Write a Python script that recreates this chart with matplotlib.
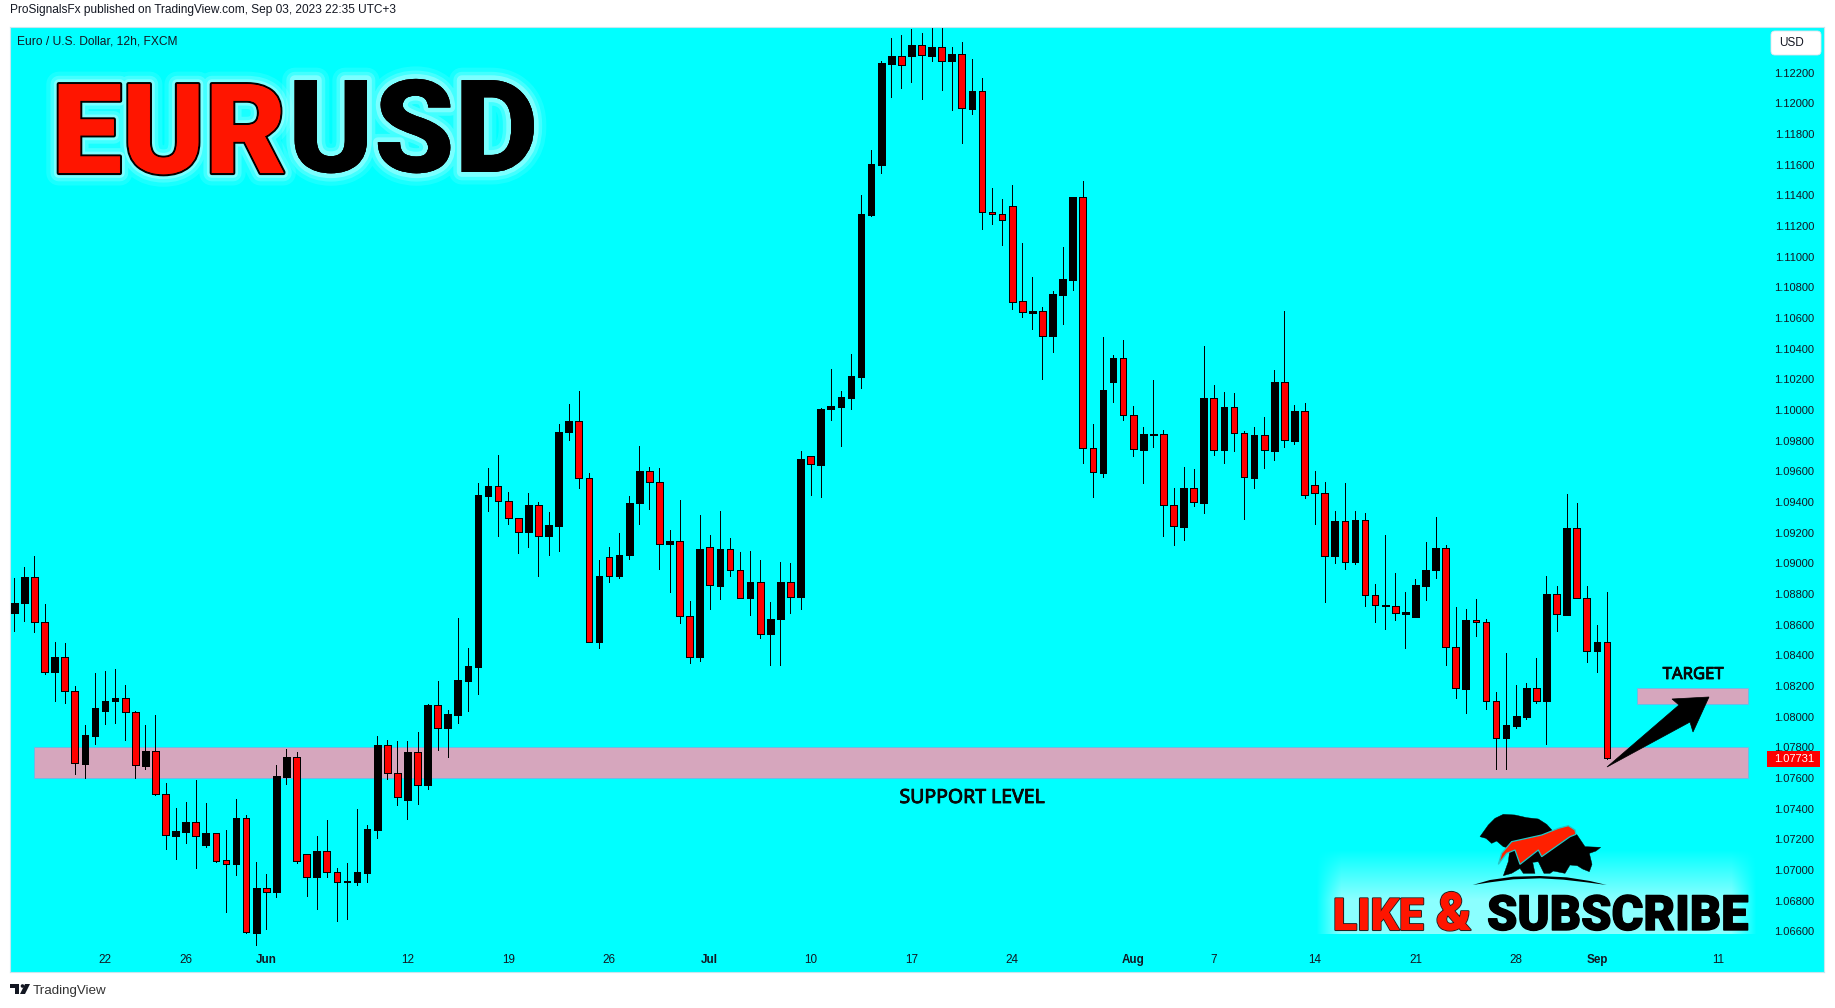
import numpy as np
import matplotlib
matplotlib.use('Agg')
import matplotlib.pyplot as plt
import matplotlib.patheffects as pe
from matplotlib.patches import Polygon, Rectangle, FancyBboxPatch

# EUR/USD 12h candles, prices in 1e-5 units
opens = [108679,108738,108910,108615,108288,108387,108165,107694,107877,108039,
 108099,108121,108028,107681,107773,107494,107224,107250,107316,107165,
 107239,107063,107041,107336,106591,106885,106857,107609,107740,107107,
 106956,107121,106989,106923,106923,106982,107263,107813,107631,107459,
 107767,107556,108075,107923,108013,108235,108327,109442,109503,109405,
 109294,109207,109379,109175,109246,109853,109927,109555,108490,109040,
 108914,109051,109390,109601,109529,109123,109144,108655,108386,109105,
 108855,109092,108955,108771,108877,108536,108634,108877,108777,109698,
 109644,110003,110022,110081,110218,111274,111600,112258,112306,112310,
 112378,112310,112365,112278,112319,111965,112078,111289,111276,111328,
 110709,110635,110644,110479,110752,110850,111387,109750,109591,110185,
 110337,109965,109741,109839,109841,109378,109239,109489,109396,110076,
 109741,110017,109848,109559,109835,109735,110180,109800,109991,109509,
 109457,109050,109274,109011,109281,108791,108719,108719,108672,108653,
 108855,108956,109099,108453,108182,108628,108615,108101,107859,107940,
 108000,108184,108101,108798,108666,109228,108774,108431,108486]
closes = [108741,108910,108615,108288,108387,108165,107696,107879,108055,108101,
 108121,108028,107683,107773,107494,107226,107252,107316,107220,107239,
 107061,107041,107336,106593,106885,106857,107611,107740,107061,106956,
 107121,106989,106925,106927,106984,107266,107813,107631,107479,107767,
 107556,108075,107925,108015,108237,108330,109446,109505,109405,109294,
 109207,109379,109177,109249,109855,109927,109553,108490,108916,108914,
 109053,109392,109601,109529,109125,109144,108655,108388,109092,108857,
 109092,108955,108773,108877,108538,108636,108877,108779,109679,109646,
 110005,110024,110083,110222,111278,111602,112261,112306,112247,112378,
 112313,112365,112278,112319,111967,112078,111289,111276,111241,110707,
 110637,110644,110481,110755,110852,111387,109750,109594,110128,110337,
 109965,109743,109841,109841,109378,109242,109489,109398,110076,109741,
 110017,109848,109561,109835,109737,110180,109802,109991,109444,109457,
 109050,109274,109011,109281,108791,108727,108727,108675,108681,108857,
 108956,109099,108455,108184,108628,108615,108101,107859,107943,108002,
 108184,108101,108798,108668,109228,108774,108431,108486,107731]
highs = [108903,108976,109046,108734,108488,108479,108198,107943,108283,108297,
 108310,108204,108035,107943,108009,107565,107402,107442,107584,107435,
 107239,107259,107461,107356,107050,106971,107683,107787,107767,107107,
 107220,107323,107011,107044,107395,107296,107872,107846,107839,107839,
 107899,108081,108231,108042,108642,108446,109523,109622,109707,109466,
 109294,109457,109401,109335,109907,110040,110122,109588,109020,109105,
 109196,109438,109766,109627,109620,109216,109412,108753,109314,109183,
 109340,109164,109073,109079,109020,108747,109007,109001,109731,109698,
 110011,110268,110122,110366,111402,111693,112274,112423,112445,112482,
 112456,112510,112510,112365,112397,112287,112163,111446,111374,111465,
 111087,110865,110670,110774,111061,111387,111491,109906,110474,110356,
 110454,110024,109887,110193,109867,109489,109626,109613,110415,110161,
 110115,110109,109861,109887,109952,110259,110643,110030,110043,109600,
 109528,109339,109524,109341,109327,108864,109185,108936,108811,108897,
 109141,109301,109119,108714,108701,108767,108635,108158,108413,108204,
 108217,108380,108916,108850,109450,109393,108850,108595,108811]
lows = [108556,108626,108549,108275,108105,108092,107628,107602,107824,107954,
 107960,107850,107602,107661,107488,107138,107072,107178,107015,107151,
 107055,106727,106969,106587,106512,106617,106826,107562,107048,106833,
 106747,106956,106670,106681,106903,106923,107211,107595,107426,107334,
 107433,107529,107784,107738,107960,108039,108145,109344,109181,109253,
 109070,109109,108920,109057,109081,109801,109488,108490,108445,108875,
 108907,109025,109259,109357,108966,108810,108608,108353,108360,108705,
 108764,108920,108773,108666,108510,108340,108334,108673,108705,109448,
 109435,109937,109768,110009,110140,111267,111548,112043,112102,112141,
 112030,112278,112089,111958,111743,111932,111183,111215,111078,110655,
 110603,110531,110203,110381,110563,110779,109657,109435,109565,110054,
 109937,109702,109526,109761,109181,109122,109155,109376,109331,109709,
 109657,109735,109292,109494,109624,109676,109761,109780,109428,109259,
 108750,109005,108966,108995,108719,108620,108569,108633,108450,108653,
 108758,108905,108334,108119,108026,108523,108053,107661,107661,107923,
 107987,108086,107824,108556,108666,108774,108354,108288,107727]

date_pos = [9,17,25,39,49,59,69,79,89,99,111,119,129,139,149,157,169]
date_labels = ['22','26','Jun','12','19','26','Jul','10','17','24','Aug','7','14','21','28','Sep','11']
month_labels = ['Jun','Jul','Aug','Sep']
price_ticks = [1.066 + 0.002*k for k in range(29)]

support = (1.07600, 1.07800)
target = (1.08081, 1.08189)
zone_x = (2, 172)
target_x = 161
last_price = 1.07731

CYAN = '#00ffff'
RED = '#ff0000'
FONT = 'Liberation Sans'
W, H = 1835, 1008

o = np.array(opens)/1e5
c = np.array(closes)/1e5
h = np.array(highs)/1e5
l = np.array(lows)/1e5
x = np.arange(len(o))
up = c >= o

fig = plt.figure(figsize=(W/100, H/100), dpi=100, facecolor='white')
left, right, top, bottom = 10, 1824, 27, 972
ax = fig.add_axes([left/W, 1-bottom/H, (right-left)/W, (bottom-top)/H], facecolor=CYAN)
ax.set_xlim((left-14.3)/10.08, (right-14.3)/10.08)
ax.set_ylim(1.06335, 1.12497)
for s in ax.spines.values():
    s.set_color('#c8e6ee')
    s.set_linewidth(0.8)

# zones
for (y0, y1), (x0, x1) in [(support, zone_x), (target, (target_x, zone_x[1]))]:
    ax.add_patch(Rectangle((x0, y0), x1-x0, y1-y0, fc='#d6a6bd', ec='#6cbce6', lw=0.7, zorder=1))

# candles
ax.vlines(x, l, h, color='black', lw=0.72, zorder=2, antialiased=False)
ax.bar(x, c-o, bottom=o, width=0.66, color=np.where(up, 'black', RED).tolist(),
       edgecolor='black', linewidth=0.72, zorder=3, antialiased=False)

ax.set_xticks(date_pos)
ax.set_xticklabels(date_labels, fontsize=8.4, family=FONT, color='#131722')
for t in ax.get_xticklabels():
    if t.get_text() in month_labels:
        t.set_fontweight('bold')
ax.tick_params(axis='x', length=0, pad=-13)
ax.yaxis.tick_right()
ax.set_yticks(price_ticks)
ax.set_yticklabels(['%.5f' % v for v in price_ticks], fontsize=8.0, family=FONT, color='#131722', ha='right')
ax.tick_params(axis='y', length=0, pad=-7.2)

# overlay in picture pixels for annotations and the logo
ov = fig.add_axes([0, 0, 1, 1], facecolor='none', zorder=5)
ov.axis('off')

# soft light panel behind the banner
ny, nx = 90, 440
fade_y = np.clip((np.arange(ny)-5)/50.0, 0, 1)
fade_x = np.clip(np.minimum(np.arange(nx), nx-1-np.arange(nx))/25.0, 0, 1)
panel = np.ones((ny, nx, 4))
panel[..., 3] = 0.55*np.outer(fade_y, fade_x)
ov.imshow(panel, extent=(1316, 1756, 934, 844), aspect='auto', zorder=1)
ov.set_xlim(0, W)
ov.set_ylim(H, 0)

ov.text(10, 10, 'ProSignalsFx published on TradingView.com, Sep 03, 2023 22:35 UTC+3',
        fontsize=8.55, family=FONT, color='#131722', va='center')
ov.text(17, 42, 'Euro / U.S. Dollar, 12h, FXCM', fontsize=8.65, family=FONT, color='#131722', va='center')
ov.text(33, 991, 'TradingView', fontsize=9.6, family=FONT, color='#333333', va='center')

# footer mark
for pts in ([(10,984),(19,984),(19,994),(15,994),(15,988),(10,988)],
            [(25,984),(30,984),(25,994),(20,994)]):
    ov.add_patch(Polygon(pts, fc='#131722', ec='none'))
ov.add_patch(plt.Circle((22.5, 986), 1.8, fc='#131722', ec='none'))

# USD button
ov.add_patch(FancyBboxPatch((1773, 33), 46, 20, boxstyle='round,pad=2,rounding_size=4',
                            fc='white', ec='#e0e3eb', lw=0.6))
ov.text(1791, 43, 'USD', fontsize=8.5, family=FONT, color='#131722', ha='center', va='center')

# price tag
ov.add_patch(Rectangle((1767, 751), 53, 16, fc=RED, ec='none', zorder=6))
ov.text(1814, 759, '%.5f' % last_price, fontsize=8.0, family=FONT, color='white',
        ha='right', va='center', zorder=7)

# notes on the chart
bold_ink = [pe.withStroke(linewidth=0.6, foreground='#0a0a0a'), pe.Normal()]
ov.text(1693, 675, 'TARGET', fontsize=12, family='Noto Sans', color='#0a0a0a', ha='center', va='center',
        path_effects=bold_ink)
ov.text(972, 798, 'SUPPORT LEVEL', fontsize=14, family='Noto Sans', color='#0a0a0a', ha='center', va='center',
        path_effects=bold_ink)

# arrow to target
arrow = [(1607,767),(1679,705),(1672,699),(1709,697),(1693,732),(1690,722)]
ov.add_patch(Polygon(arrow, fc='black', ec='black', lw=0.5, zorder=4))

# big heading
glow = [pe.withStroke(linewidth=18, foreground='white', alpha=0.10),
        pe.withStroke(linewidth=12, foreground='white', alpha=0.18),
        pe.withStroke(linewidth=7, foreground='white', alpha=0.30)]
ov.text(52, 173, 'EUR', fontsize=90, family='Roboto', fontweight='black', color='#ff1500', va='baseline',
        path_effects=glow+[pe.withStroke(linewidth=3, foreground='black'), pe.Normal()])
ov.text(288, 172, 'USD', fontsize=93, family='Roboto', fontweight='black', color='black', va='baseline',
        path_effects=glow+[pe.Normal()])

# like and subscribe banner
red_ink = [pe.withStroke(linewidth=1.5, foreground='#222222'), pe.Normal()]
ov.text(1333, 930, 'LIKE', fontsize=32, family='Roboto', fontweight='black', color='#ff1500', va='baseline',
        path_effects=red_ink)
ov.text(1436, 930, '&', fontsize=38, family='Roboto', fontweight='black', color='#ff1500', va='baseline',
        path_effects=red_ink)
ov.text(1487, 930, 'SUBSCRIBE', fontsize=35, family='Roboto', fontweight='black', color='black', va='baseline',
        path_effects=[pe.withStroke(linewidth=1, foreground='black'), pe.Normal()])

# bear and bull logo, outline
def logo(pts):
    return [(1470+a/3, 805+b/3) for a, b in pts]

beast = [(30,95),(55,60),(75,40),(100,28),(135,30),(170,38),(205,42),(230,58),(250,80),(320,88),
         (345,125),(392,127),(378,138),(358,145),(366,178),(358,200),(338,192),(322,182),(300,180),
         (285,205),(250,198),(240,205),(222,205),(205,170),(188,172),(195,205),(160,205),(150,190),
         (125,205),(100,212),(115,170),(120,130),(100,125),(80,108),(65,115),(48,100)]
swoosh = [(85,178),(95,145),(125,110),(170,100),(215,90),(265,70),(295,62),(315,75),(318,88),(300,95),
          (215,155),(205,135),(150,178),(135,135),(110,145)]
ground = [(8,240),(60,225),(130,215),(210,213),(290,217),(360,228),(410,240),
          (350,232),(280,224),(210,220),(130,223),(60,232)]
ov.add_patch(Polygon(logo(beast), fc='black', ec='black', lw=0.3, zorder=3))
ov.add_patch(Polygon(logo(swoosh), fc='#ff2000', ec='#20c8c8', lw=0.9, zorder=4))
ov.add_patch(Polygon(logo(ground), fc='black', ec='none', zorder=3))

fig.savefig('out.png', dpi=100)
